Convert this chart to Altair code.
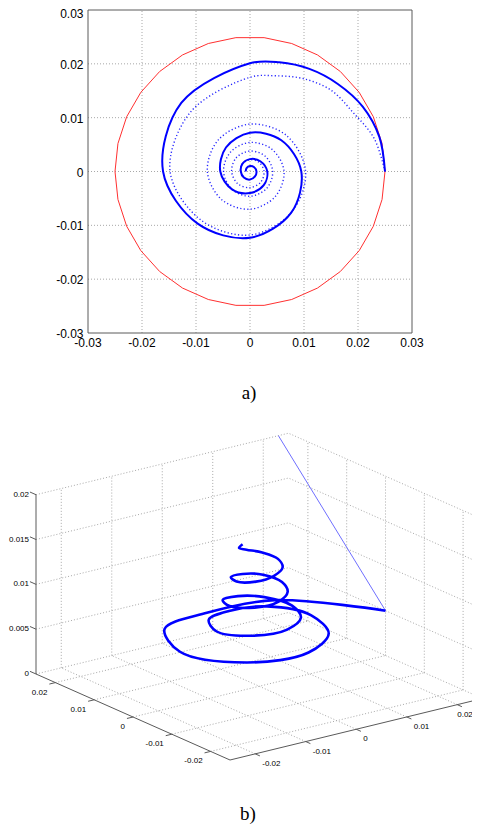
import altair as alt
import pandas as pd

# ======================= panel a) : plane view =======================
A_LIM = [-0.03, 0.03]
A_TICKS = [-0.03, -0.02, -0.01, 0.0, 0.01, 0.02, 0.03]
A_TICK_TEXT = ["-0.03", "-0.02", "-0.01", "0", "0.01", "0.02", "0.03"]

# red reference circle (polygon vertices, degrees) and its radius
RING_R = 0.025
RING_DEG = [0, 12, 24, 36, 48, 60, 72, 84, 96, 108, 120, 132, 144, 156, 168, 180,
            192, 204, 216, 228, 240, 252, 264, 276, 288, 300, 312, 324, 336, 348, 360]

# solid spiral: radius read at these angles (counter-clockwise from +x)
SOLID_DEG = [0, 15, 30, 45, 60, 75, 90, 135, 180, 225, 270, 315, 360,
             405, 450, 495, 540, 585, 630, 675, 720,
             765, 810, 855, 900, 945, 990, 1035, 1080,
             1125, 1170, 1215, 1260]
SOLID_R = [0.0250, 0.0248, 0.0241, 0.0230, 0.0220, 0.0210, 0.0201,
           0.0180, 0.0161, 0.0137, 0.0123, 0.0108, 0.0095,
           0.0082, 0.0072, 0.0063, 0.0055, 0.0047, 0.0040, 0.0036, 0.0032,
           0.0027, 0.0023, 0.0020, 0.0017, 0.0016, 0.0015, 0.0013, 0.0012,
           0.0011, 0.0010, 0.0009, 0.0008]

# dotted spiral: radius read at these angles
DOTTED_DEG = [0, 15, 30, 45, 60, 75, 90, 135, 180, 225, 270, 315, 360,
              405, 450, 495, 540, 585, 630, 675, 720,
              765, 810, 855, 900, 945, 990, 1035, 1080,
              1125, 1170, 1215, 1260, 1305, 1350, 1395, 1440,
              1485, 1530, 1575, 1620]
DOTTED_R = [0.0250, 0.0238, 0.0220, 0.0213, 0.0199, 0.0184, 0.0175,
            0.0156, 0.0148, 0.0128, 0.0118, 0.0108, 0.0103,
            0.0095, 0.0088, 0.0083, 0.0079, 0.0074, 0.0070, 0.0066, 0.0063,
            0.0058, 0.0054, 0.0051, 0.0049, 0.0047, 0.0046, 0.0044, 0.0042,
            0.0040, 0.0038, 0.0036, 0.0034, 0.0032, 0.0030, 0.0028, 0.0026,
            0.0024, 0.0022, 0.0020, 0.0018]

# ======================= panel b) : 3-D view =======================
BOX_X = [-0.025, 0.025]
BOX_Y = [-0.025, 0.025]
BOX_Z = [0.0, 0.02]
XY_TICKS = [-0.02, -0.01, 0.0, 0.01, 0.02]
XY_TICK_TEXT = ["-0.02", "-0.01", "0", "0.01", "0.02"]
Z_TICKS = [0.0, 0.005, 0.01, 0.015, 0.02]
Z_TICK_TEXT = ["0", "0.005", "0.01", "0.015", "0.02"]

# thick helix: angle (deg), radius and height
HELIX_DEG = [0, 45, 90, 135, 180, 225, 270, 315, 360,
             405, 450, 495, 540, 585, 630, 675, 720,
             765, 810, 855, 900, 945, 990, 1035, 1080,
             1125, 1170, 1215, 1260, 1305, 1350, 1395, 1440,
             1485, 1530, 1575, 1620]
HELIX_R = [0.0250, 0.0185, 0.0135, 0.0150, 0.0157, 0.0148, 0.0127, 0.0110, 0.0103,
           0.0095, 0.0078, 0.0080, 0.0085, 0.0080, 0.0072, 0.0066, 0.0065,
           0.0062, 0.0055, 0.0058, 0.0060, 0.0057, 0.0050, 0.0045, 0.0045,
           0.0045, 0.0043, 0.0045, 0.0045, 0.0040, 0.0037, 0.0037, 0.0037,
           0.0035, 0.0033, 0.0032, 0.0033]
HELIX_Z = [0.0050, 0.0053, 0.0056, 0.0058, 0.0060, 0.0061, 0.0062, 0.0063, 0.0065,
           0.0067, 0.0069, 0.0071, 0.0073, 0.0075, 0.0077, 0.0079, 0.0081,
           0.0085, 0.0090, 0.0094, 0.0098, 0.0101, 0.0104, 0.0107, 0.0110,
           0.0114, 0.0117, 0.0120, 0.0123, 0.0126, 0.0130, 0.0134, 0.0137,
           0.0141, 0.0146, 0.0153, 0.0163]

# thin straight line (start point and point where it leaves the box)
THIN_X = [0.025, 0.023]
THIN_Y = [0.0, 0.025]
THIN_Z = [0.005, 0.02]

# ----------------------------- style / layout -----------------------------
SANS = "Liberation Sans, Arial, sans-serif"
SERIF = "Liberation Serif, Times New Roman, serif"
BLUE = "#0000ff"
GRID = "#a8a8a8"
AXIS = "#5a5a5a"
PANEL_W = 464

# panel a: plot box position inside its panel (px)
A_H = 346
A_BOX = {"left": 80, "right": 404, "top": 1, "bottom": 324}
kx = (A_BOX["right"] - A_BOX["left"]) / (A_LIM[1] - A_LIM[0])
ky = (A_BOX["bottom"] - A_BOX["top"]) / (A_LIM[1] - A_LIM[0])
A_XDOM = [A_LIM[0] - A_BOX["left"] / kx, A_LIM[0] + (PANEL_W - A_BOX["left"]) / kx]
A_YDOM = [A_LIM[1] - (A_H - A_BOX["top"]) / ky, A_LIM[1] + A_BOX["top"] / ky]
SXA = alt.Scale(domain=A_XDOM, nice=False, zero=False)
SYA = alt.Scale(domain=A_YDOM, nice=False, zero=False)

# panel b: camera (px per data unit) for the projected 3-D view
VIEW_UX, VIEW_UY = 5050.0, -3880.0
VIEW_WX, VIEW_WY, VIEW_WZ = 1230.0, 1720.0, 8965.0
B_H = 368
B_FRONT = (222, 357)  # where the front-bottom corner of the box sits (px)
u_front = VIEW_UX * BOX_X[0] + VIEW_UY * BOX_Y[0]
w_front = VIEW_WX * BOX_X[0] + VIEW_WY * BOX_Y[0]
B_UDOM = [u_front - B_FRONT[0], u_front - B_FRONT[0] + PANEL_W]
B_WDOM = [w_front - (B_H - B_FRONT[1]), w_front - (B_H - B_FRONT[1]) + B_H]
SXB = alt.Scale(domain=B_UDOM, nice=False, zero=False)
SYB = alt.Scale(domain=B_WDOM, nice=False, zero=False)
U_EXPR = f"{VIEW_UX}*datum.x + ({VIEW_UY})*datum.y"
W_EXPR = f"{VIEW_WX}*datum.x + {VIEW_WY}*datum.y + {VIEW_WZ}*datum.z"

# ============================== panel a ==============================
ring_df = pd.DataFrame({"deg": RING_DEG, "r": RING_R})
solid_df = pd.DataFrame({"deg": SOLID_DEG, "r": SOLID_R})
dotted_df = pd.DataFrame({"deg": DOTTED_DEG, "r": DOTTED_R})
inner_ticks = [t for t in A_TICKS if A_LIM[0] < t < A_LIM[1]]
grid_a = pd.DataFrame({"t": inner_ticks, "lo": A_LIM[0], "hi": A_LIM[1]})
frame_a = pd.DataFrame({"x0": [A_LIM[0]], "x1": [A_LIM[1]], "y0": [A_LIM[0]], "y1": [A_LIM[1]]})
lab_a = pd.DataFrame({"t": A_TICKS, "txt": A_TICK_TEXT, "edge": A_LIM[0]})
ylab_main = lab_a[lab_a["t"] < A_LIM[1]]
ylab_top = lab_a[lab_a["t"] >= A_LIM[1]]


def polar_line(df, **mark):
    return (alt.Chart(df)
            .transform_calculate(px="datum.r*cos(datum.deg*PI/180)",
                                 py="datum.r*sin(datum.deg*PI/180)")
            .mark_line(**mark)
            .encode(x=alt.X("px:Q", scale=SXA, axis=None),
                    y=alt.Y("py:Q", scale=SYA, axis=None),
                    order=alt.Order("deg:Q")))


def ylab_layer(df, dy):
    return alt.Chart(df).mark_text(font=SANS, fontSize=12, dx=-4.5, dy=dy, align="right",
                                   baseline="middle", color="black").encode(
        y=alt.Y("t:Q", scale=SYA, axis=None), x=alt.X("edge:Q", scale=SXA, axis=None),
        text="txt:N")


vgrid = alt.Chart(grid_a).mark_rule(color=GRID, strokeDash=[1, 2], strokeWidth=1).encode(
    x=alt.X("t:Q", scale=SXA, axis=None), y=alt.Y("lo:Q", scale=SYA, axis=None), y2="hi:Q")
hgrid = alt.Chart(grid_a).mark_rule(color=GRID, strokeDash=[1, 2], strokeWidth=1).encode(
    y=alt.Y("t:Q", scale=SYA, axis=None), x=alt.X("lo:Q", scale=SXA, axis=None), x2="hi:Q")
frame = alt.Chart(frame_a).mark_rect(fillOpacity=0, stroke=AXIS, strokeWidth=1).encode(
    x=alt.X("x0:Q", scale=SXA, axis=None), x2="x1:Q",
    y=alt.Y("y0:Q", scale=SYA, axis=None), y2="y1:Q")
xlab = alt.Chart(lab_a).mark_text(font=SANS, fontSize=12, dy=10, align="center",
                                  baseline="middle", color="black").encode(
    x=alt.X("t:Q", scale=SXA, axis=None), y=alt.Y("edge:Q", scale=SYA, axis=None), text="txt:N")
ylab = ylab_layer(ylab_main, 1)
ylab_t = ylab_layer(ylab_top, 4)   # the top label sits just inside the page edge

ring = polar_line(ring_df, color="#ff3030", strokeWidth=1)
dotted = polar_line(dotted_df, color=BLUE, strokeWidth=1.4, strokeDash=[1.2, 2.3],
                    opacity=0.85, interpolate="catmull-rom")
solid = polar_line(solid_df, color=BLUE, strokeWidth=2, interpolate="catmull-rom")

panel_a = alt.layer(vgrid, hgrid, frame, ring, dotted, solid, xlab, ylab, ylab_t).properties(
    width=PANEL_W, height=A_H,
    title=alt.TitleParams(text="a)", orient="bottom", anchor="middle", font=SERIF,
                          fontSize=19, fontWeight="normal", color="black", offset=29, dx=9))

# ============================== panel b ==============================
x0, x1 = BOX_X
y0, y1 = BOX_Y
z0, z1 = BOX_Z
TL = 0.0012   # tick length (data units)


def seg_df(pairs):
    rows = []
    for k, (p, q) in enumerate(pairs):
        for j, pt in enumerate((p, q)):
            rows.append({"seg": k, "pt": j, "x": pt[0], "y": pt[1], "z": pt[2]})
    return pd.DataFrame(rows)


grid_pairs = []
for t in XY_TICKS:
    grid_pairs.append(((t, y0, z0), (t, y1, z0)))
    grid_pairs.append(((x0, t, z0), (x1, t, z0)))
    grid_pairs.append(((t, y1, z0), (t, y1, z1)))
    grid_pairs.append(((x1, t, z0), (x1, t, z1)))
for t in Z_TICKS:
    grid_pairs.append(((x0, y1, t), (x1, y1, t)))
    grid_pairs.append(((x1, y0, t), (x1, y1, t)))
axis_pairs = [((x0, y0, z0), (x1, y0, z0)), ((x0, y0, z0), (x0, y1, z0)),
              ((x0, y1, z0), (x0, y1, z1))]
axis_pairs += [((t, y0, z0), (t, y0 - TL, z0)) for t in XY_TICKS]
axis_pairs += [((x0, t, z0), (x0 - TL, t, z0)) for t in XY_TICKS]
axis_pairs += [((x0, y1, t), (x0, y1 + 1.3 * TL, t)) for t in Z_TICKS]


def proj_line(df, detail=None, order="pt:Q", **mark):
    enc = dict(x=alt.X("u:Q", scale=SXB, axis=None), y=alt.Y("w:Q", scale=SYB, axis=None),
               order=alt.Order(order))
    if detail:
        enc["detail"] = detail
    return (alt.Chart(df).transform_calculate(u=U_EXPR, w=W_EXPR)
            .mark_line(clip=True, **mark).encode(**enc))


grid_b = proj_line(seg_df(grid_pairs), detail="seg:N", color=GRID, strokeWidth=1,
                   strokeDash=[1, 2])
axes_b = proj_line(seg_df(axis_pairs), detail="seg:N", color=AXIS, strokeWidth=1)

helix_df = pd.DataFrame({"deg": HELIX_DEG, "r": HELIX_R, "z": HELIX_Z})
helix = (alt.Chart(helix_df)
         .transform_calculate(x="datum.r*cos(datum.deg*PI/180)",
                              y="datum.r*sin(datum.deg*PI/180)")
         .transform_calculate(u=U_EXPR, w=W_EXPR)
         .mark_line(color=BLUE, strokeWidth=2.6, interpolate="catmull-rom", clip=True)
         .encode(x=alt.X("u:Q", scale=SXB, axis=None), y=alt.Y("w:Q", scale=SYB, axis=None),
                 order=alt.Order("deg:Q")))
thin_df = pd.DataFrame({"x": THIN_X, "y": THIN_Y, "z": THIN_Z, "pt": [0, 1]})
thin = proj_line(thin_df, color="#6f6fff", strokeWidth=1)

xl = pd.DataFrame({"x": XY_TICKS, "y": y0, "z": z0, "txt": XY_TICK_TEXT})
yl = pd.DataFrame({"x": x0, "y": XY_TICKS, "z": z0, "txt": XY_TICK_TEXT})
zl = pd.DataFrame({"x": x0, "y": y1, "z": Z_TICKS, "txt": Z_TICK_TEXT})


def proj_text(df, **mark):
    return (alt.Chart(df).transform_calculate(u=U_EXPR, w=W_EXPR)
            .mark_text(font=SANS, fontSize=8, baseline="middle", color="black", clip=True,
                       **mark)
            .encode(x=alt.X("u:Q", scale=SXB, axis=None), y=alt.Y("w:Q", scale=SYB, axis=None),
                    text="txt:N"))


xlab_b = proj_text(xl[xl["x"] < XY_TICKS[-1]], align="left", dx=7, dy=10)
xlab_b_last = proj_text(xl[xl["x"] >= XY_TICKS[-1]], align="left", dx=0, dy=10)  # kept inside page
ylab_b = proj_text(yl, align="right", dx=-8, dy=10)
zlab_b = proj_text(zl, align="right", dx=-7, dy=0)

panel_b = alt.layer(grid_b, axes_b, thin, helix, xlab_b, xlab_b_last, ylab_b, zlab_b).properties(
    width=PANEL_W, height=B_H,
    title=alt.TitleParams(text="b)", orient="bottom", anchor="middle", font=SERIF,
                          fontSize=19, fontWeight="normal", color="black", offset=34, dx=8))

chart = (alt.vconcat(panel_a, panel_b, spacing=0)
         .properties(padding=0, background="white")
         .configure_view(strokeWidth=0))

chart.save("out.html", embed_options={"renderer": "svg", "actions": False})
